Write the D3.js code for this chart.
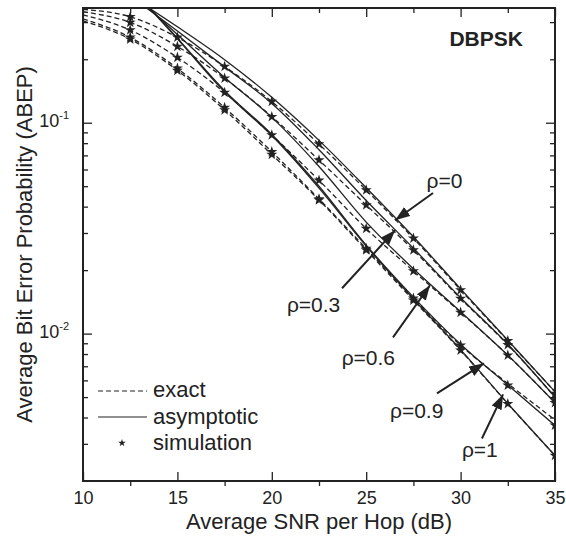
<!DOCTYPE html>
<html>
<head>
<meta charset="utf-8">
<script src="https://cdn.jsdelivr.net/npm/d3@7"></script>
<style>
  body { margin: 0; background: #fff; }
  text { font-family: "Liberation Sans", Arial, sans-serif; fill: #222; }
</style>
</head>
<body>
<div id="wrapper"></div>
<script>
// SNR grids (dB)
const snrExact = [10, 12.5, 15, 17.5, 20, 22.5, 25, 27.5, 30, 32.5, 35];
const snrAsym = [12.5, 15, 17.5, 20, 22.5, 25, 27.5, 30, 32.5, 35];
const snrSim = [12.5, 15, 17.5, 20, 22.5, 25, 27.5, 30, 32.5, 35];

// exact ABEP (dashed)
const exact0  = [0.345, 0.318, 0.254, 0.1846, 0.126, 0.0792, 0.0479, 0.0283, 0.0161, 0.00925, 0.0053];
const exact03 = [0.336, 0.299, 0.230, 0.1626, 0.1068, 0.0665, 0.0407, 0.0249, 0.01466, 0.00885, 0.0050];
const exact06 = [0.325, 0.275, 0.204, 0.139, 0.0874, 0.0533, 0.0315, 0.0198, 0.0126, 0.00789, 0.0047];
const exact09 = [0.311, 0.254, 0.181, 0.118, 0.0728, 0.0435, 0.0253, 0.0147, 0.0088, 0.0058, 0.0039];
const exact1  = [0.304, 0.249, 0.177, 0.115, 0.0707, 0.0430, 0.0249, 0.0144, 0.00833, 0.00465, 0.00264];

// asymptotic ABEP (solid)
const asym0  = [0.40, 0.285, 0.199, 0.132, 0.0825, 0.0492, 0.0288, 0.0163, 0.0093, 0.0053];
const asym03 = [0.40, 0.272, 0.184, 0.1235, 0.0745, 0.0428, 0.0254, 0.0148, 0.0089, 0.0050];
const asym06 = [0.42, 0.262, 0.164, 0.106, 0.062, 0.0338, 0.0203, 0.0127, 0.0079, 0.0047];
const asym09 = [0.44, 0.252, 0.142, 0.088, 0.050, 0.0263, 0.0149, 0.0089, 0.0057, 0.00367];
const asym1  = [0.44, 0.250, 0.140, 0.087, 0.049, 0.0260, 0.0146, 0.0084, 0.00466, 0.00264];

// simulation (stars)
const sim0  = [0.318, 0.254, 0.1846, 0.126, 0.0792, 0.0479, 0.0283, 0.0161, 0.00925, 0.0052];
const sim03 = [0.299, 0.230, 0.1626, 0.1068, 0.0665, 0.0407, 0.0249, 0.01466, 0.00885, 0.0049];
const sim06 = [0.275, 0.204, 0.139, 0.0874, 0.0533, 0.0315, 0.0198, 0.0126, 0.00789, 0.0047];
const sim09 = [0.254, 0.181, 0.118, 0.0728, 0.0435, 0.0253, 0.0147, 0.0088, 0.00568, 0.00367];
const sim1  = [0.249, 0.177, 0.115, 0.0707, 0.0430, 0.0249, 0.0144, 0.00833, 0.00465, 0.00264];

const rhoLabels = ["ρ=0", "ρ=0.3", "ρ=0.6", "ρ=0.9", "ρ=1"];
// label anchor [snr, abep], arrow tail [snr, abep], arrow tip [snr, abep]
const labelPos = [[28.2, 0.049], [20.8, 0.0126], [23.7, 0.0071], [26.26, 0.0040], [30.07, 0.00259]];
const arrowTail = [[28.54, 0.0464], [23.72, 0.0164], [26.42, 0.0096], [28.75, 0.00521], [31.13, 0.00318]];
const arrowTip = [[26.53, 0.0345], [26.53, 0.0309], [28.38, 0.01696], [31.24, 0.00723], [32.25, 0.00515]];

const xMajor = [10, 15, 20, 25, 30, 35];
const xMinor = [12.5, 17.5, 22.5, 27.5, 32.5];
const yMajor = [0.01, 0.1];
const yMinor = [0.003, 0.004, 0.005, 0.006, 0.007, 0.008, 0.009,
                0.02, 0.03, 0.04, 0.05, 0.06, 0.07, 0.08, 0.09, 0.2, 0.3];
const yExp = {0.01: "-2", 0.1: "-1"};

const dimension = {
    width: 566,
    height: 541,
    margin: { top: 8, left: 83, bottom: 60, right: 11 }
};
dimension.boundedWidth = dimension.width - dimension.margin.left - dimension.margin.right;
dimension.boundedHeight = dimension.height - dimension.margin.top - dimension.margin.bottom;
const iw = dimension.boundedWidth, ih = dimension.boundedHeight;
const ink = "#222";

const svg = d3.select("#wrapper").append("svg")
    .attr("width", dimension.width)
    .attr("height", dimension.height);

const bounds = svg.append("g")
    .attr("transform", `translate(${dimension.margin.left},${dimension.margin.top})`);

const xScaler = d3.scaleLinear().domain([10, 35]).range([0, iw]);
const yScaler = d3.scaleLog().domain([0.002, 0.35]).range([ih, 0]);

svg.append("defs").append("clipPath").attr("id", "plotclip")
    .append("rect").attr("width", iw).attr("height", ih);

svg.select("defs").append("marker")
    .attr("id", "head")
    .attr("markerUnits", "userSpaceOnUse")
    .attr("viewBox", "0 0 15 11")
    .attr("refX", 15).attr("refY", 5.5)
    .attr("markerWidth", 15).attr("markerHeight", 11)
    .attr("orient", "auto")
    .append("path").attr("d", "M0,0 L15,5.5 L0,11 Z").attr("fill", ink);

// axes
function styleAxis(g) {
    g.select(".domain").remove();
    g.selectAll(".tick line").attr("stroke", ink).attr("stroke-width", 1.3);
    g.selectAll(".tick text").attr("font-size", 18).attr("fill", ink)
        .attr("font-family", "Liberation Sans, Arial, sans-serif");
}

bounds.append("g").attr("transform", `translate(0,${ih})`)
    .call(d3.axisBottom(xScaler).tickValues(xMajor).tickSizeInner(-9).tickSizeOuter(0)
        .tickPadding(10).tickFormat(d3.format("d")))
    .call(styleAxis);
bounds.append("g").attr("transform", `translate(0,${ih})`)
    .call(d3.axisBottom(xScaler).tickValues(xMinor).tickSize(5).tickFormat(""))
    .call(styleAxis);
bounds.append("g")
    .call(d3.axisTop(xScaler).tickValues(xMajor).tickSize(-9).tickFormat(""))
    .call(styleAxis);
bounds.append("g")
    .call(d3.axisTop(xScaler).tickValues(xMinor).tickSize(-5).tickFormat(""))
    .call(styleAxis);

const yAxisLeft = bounds.append("g")
    .call(d3.axisLeft(yScaler).tickValues(yMajor).tickSize(-9).tickPadding(14).tickFormat(""))
    .call(styleAxis);
yAxisLeft.selectAll(".tick text").attr("dy", null).each(function(d) {
    const t = d3.select(this);
    t.append("tspan").attr("dy", "0.2em").text("10");
    t.append("tspan").attr("dy", "-8").attr("font-size", 11).text(yExp[d]);
});
bounds.append("g")
    .call(d3.axisLeft(yScaler).tickValues(yMinor).tickSize(-5).tickFormat(""))
    .call(styleAxis);
bounds.append("g").attr("transform", `translate(${iw},0)`)
    .call(d3.axisRight(yScaler).tickValues(yMajor).tickSize(-9).tickFormat(""))
    .call(styleAxis);
bounds.append("g").attr("transform", `translate(${iw},0)`)
    .call(d3.axisRight(yScaler).tickValues(yMinor).tickSize(-5).tickFormat(""))
    .call(styleAxis);

// curves
const exactSets = [exact0, exact03, exact06, exact09, exact1];
const asymSets = [asym0, asym03, asym06, asym09, asym1];
const simSets = [sim0, sim03, sim06, sim09, sim1];

const lineGen = d3.line()
    .x(d => xScaler(d[0]))
    .y(d => yScaler(d[1]))
    .curve(d3.curveMonotoneX);

const plot = bounds.append("g").attr("clip-path", "url(#plotclip)");

exactSets.forEach(vals => {
    plot.append("path")
        .attr("d", lineGen(d3.zip(snrExact, vals)))
        .attr("fill", "none").attr("stroke", ink)
        .attr("stroke-width", 1.3).attr("stroke-dasharray", "5 3");
});
asymSets.forEach(vals => {
    plot.append("path")
        .attr("d", lineGen(d3.zip(snrAsym, vals)))
        .attr("fill", "none").attr("stroke", ink)
        .attr("stroke-width", 1.3);
});
const star = d3.symbol().type(d3.symbolStar).size(38);
simSets.forEach(vals => {
    plot.selectAll(null)
        .data(d3.zip(snrSim, vals))
        .enter().append("path")
        .attr("d", star)
        .attr("transform", d => `translate(${xScaler(d[0])},${yScaler(d[1])})`)
        .attr("fill", ink);
});

// frame
bounds.append("rect")
    .attr("width", iw).attr("height", ih)
    .attr("fill", "none").attr("stroke", ink).attr("stroke-width", 2);

// annotations
rhoLabels.forEach((lab, i) => {
    bounds.append("line")
        .attr("x1", xScaler(arrowTail[i][0])).attr("y1", yScaler(arrowTail[i][1]))
        .attr("x2", xScaler(arrowTip[i][0])).attr("y2", yScaler(arrowTip[i][1]))
        .attr("stroke", ink).attr("stroke-width", 2)
        .attr("marker-end", "url(#head)");
    bounds.append("text")
        .attr("x", xScaler(labelPos[i][0])).attr("y", yScaler(labelPos[i][1]))
        .attr("font-size", 21)
        .text(lab);
});

bounds.append("text")
    .attr("x", xScaler(33.3)).attr("y", yScaler(0.231))
    .attr("text-anchor", "end")
    .attr("font-size", 21).attr("font-weight", "bold")
    .text("DBPSK");

// legend
const legend = bounds.append("g").attr("transform", "translate(15,383)");
legend.append("line").attr("x1", 0).attr("x2", 49).attr("y1", 0).attr("y2", 0)
    .attr("stroke", ink).attr("stroke-width", 1.2).attr("stroke-dasharray", "5 3");
legend.append("line").attr("x1", 0).attr("x2", 49).attr("y1", 26).attr("y2", 26)
    .attr("stroke", ink).attr("stroke-width", 1.2);
legend.append("path").attr("d", d3.symbol().type(d3.symbolStar).size(18))
    .attr("transform", "translate(24,52)").attr("fill", ink);
["exact", "asymptotic", "simulation"].forEach((t, i) => {
    legend.append("text").attr("x", 55).attr("y", 6 + i * 26.5)
        .attr("font-size", 22).text(t);
});

// axis titles
bounds.append("text")
    .attr("x", iw / 2).attr("y", ih + 48)
    .attr("text-anchor", "middle").attr("font-size", 22)
    .text("Average SNR per Hop (dB)");
bounds.append("text")
    .attr("transform", `translate(-51,${ih / 2}) rotate(-90)`)
    .attr("text-anchor", "middle").attr("font-size", 22)
    .text("Average Bit Error Probability (ABEP)");
</script>
</body>
</html>
